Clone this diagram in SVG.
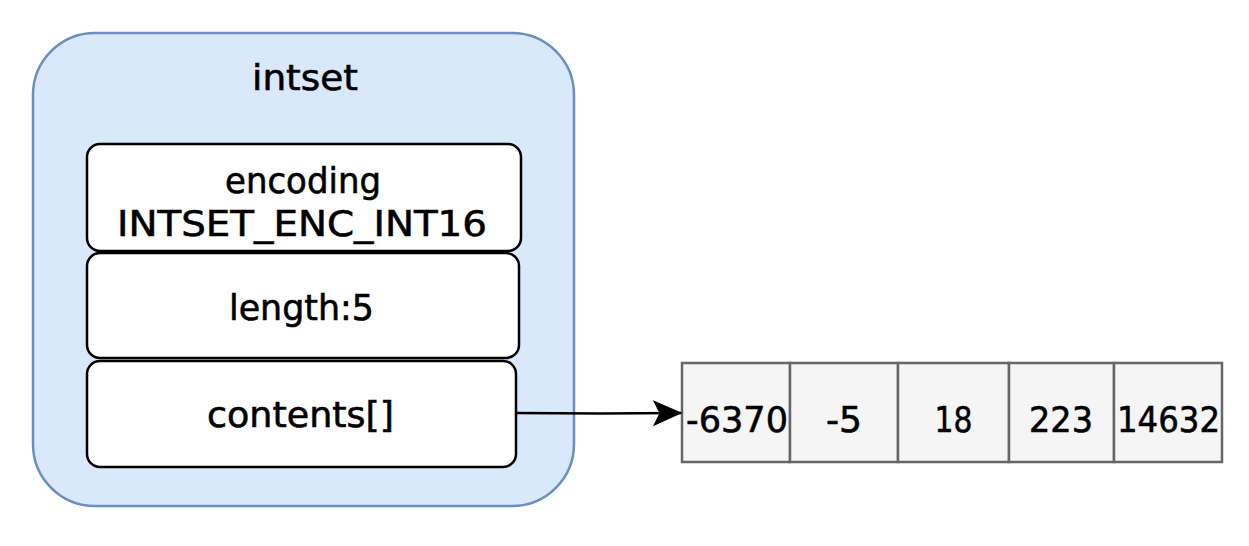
<svg xmlns="http://www.w3.org/2000/svg" width="1249" height="546" viewBox="0 0 1249 546">
  <style>
    .lbl { font-family: "DejaVu Sans", "Liberation Sans", sans-serif; font-size: 36px; fill: #000; stroke: #000; stroke-width: 0.6; text-anchor: middle; }
    .field { fill: #ffffff; stroke: #000000; stroke-width: 2.5; }
    .cell { fill: #f5f5f5; stroke: #666666; stroke-width: 2.5; }
    .edge { fill: none; stroke: #000000; stroke-width: 2.5; }
  </style>
  <defs>
    <marker id="arrow" markerUnits="userSpaceOnUse" markerWidth="30" markerHeight="30" viewBox="0 0 30 30" refX="28" refY="15" orient="auto">
      <path d="M28 15 L1 3 L7 15 L1 27 Z" fill="#000000" stroke="#000000" stroke-width="1"/>
    </marker>
  </defs>

  <!-- intset struct container -->
  <g id="intset">
    <rect x="33" y="33" width="541" height="473" rx="62" ry="62" fill="#dae8fc" stroke="#6c8ebf" stroke-width="2.5"/>
    <text class="lbl" x="305" y="90" textLength="106" lengthAdjust="spacingAndGlyphs">intset</text>
  </g>

  <g id="encoding">
    <rect class="field" x="87" y="144" width="434" height="107" rx="13" ry="13"/>
    <text class="lbl" x="303" y="193" textLength="156" lengthAdjust="spacingAndGlyphs">encoding</text>
    <text class="lbl" x="302" y="236" textLength="370" lengthAdjust="spacingAndGlyphs">INTSET_ENC_INT16</text>
  </g>

  <g id="length">
    <rect class="field" x="87" y="253" width="432" height="105" rx="13" ry="13"/>
    <text class="lbl" x="301.5" y="320" textLength="145" lengthAdjust="spacingAndGlyphs">length:5</text>
  </g>

  <g id="contents">
    <rect class="field" x="87" y="361" width="429" height="106" rx="13" ry="13"/>
    <text class="lbl" x="300.5" y="427" textLength="187" lengthAdjust="spacingAndGlyphs">contents[]</text>
  </g>

  <!-- contents array -->
  <g id="array">
    <rect class="cell" x="682" y="363" width="108" height="99"/>
    <rect class="cell" x="790" y="363" width="108" height="99"/>
    <rect class="cell" x="898" y="363" width="111" height="99"/>
    <rect class="cell" x="1009" y="363" width="105" height="99"/>
    <rect class="cell" x="1114" y="363" width="108" height="99"/>
    <text class="lbl" x="737" y="432" textLength="102" lengthAdjust="spacingAndGlyphs">-6370</text>
    <text class="lbl" x="844" y="432" textLength="36" lengthAdjust="spacingAndGlyphs">-5</text>
    <text class="lbl" x="953.5" y="432" textLength="38" lengthAdjust="spacingAndGlyphs">18</text>
    <text class="lbl" x="1061" y="432" textLength="64" lengthAdjust="spacingAndGlyphs">223</text>
    <text class="lbl" x="1168.5" y="432" textLength="103" lengthAdjust="spacingAndGlyphs">14632</text>
  </g>

  <g id="connectors">
    <path class="edge" d="M516 413 L600 413.5 L681 413" marker-end="url(#arrow)"/>
  </g>
</svg>
